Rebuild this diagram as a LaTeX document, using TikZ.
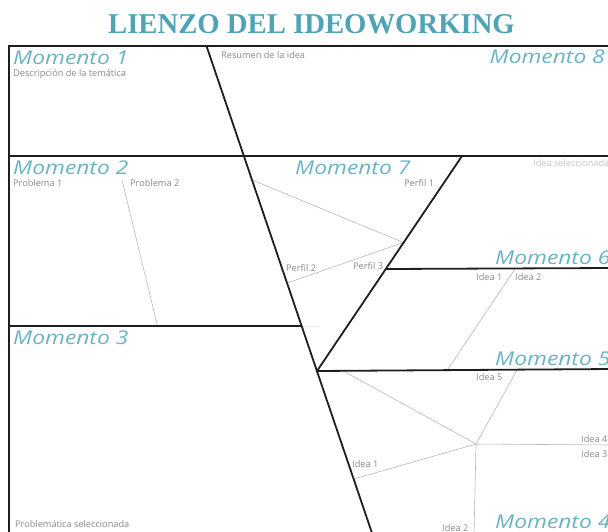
\documentclass[tikz,border=0pt]{standalone}
\usepackage{fontspec}
\setmainfont{Open Sans}
\newfontfamily\titlefont{Liberation Serif}
\newfontfamily\momfont{Open Sans}
\definecolor{titlec}{HTML}{4FA3B4}
\definecolor{momc}{HTML}{6BB3C4}
\definecolor{labc}{HTML}{8A8A8A}
\definecolor{lightlabc}{HTML}{C6C6C6}
\definecolor{thinc}{HTML}{B8B8B8}
\definecolor{framec}{HTML}{1E1E1E}
\begin{document}
\begin{tikzpicture}[x=1pt,y=-1pt,
  frame/.style={draw=framec,line width=1.8pt},
  thin/.style={draw=thinc,line width=0.6pt},
  mom/.style={font=\momfont\fontsize{19}{19}\selectfont\itshape,text=momc,inner sep=0pt},
  lab/.style={font=\fontsize{9.2}{9.5}\selectfont,text=labc,inner sep=0pt,anchor=base west},
  lightlab/.style={lab,text=lightlabc}]
\useasboundingbox (0,0) rectangle (608,531);
\clip (0,0) rectangle (608,531);
% title
\node[font=\titlefont\bfseries\fontsize{28.7}{29}\selectfont,text=titlec,inner sep=0pt,anchor=base] (title) at (311.5,33) {LIENZO DEL IDEOWORKING};
% coordinates
\coordinate (ftl) at (9,46);
\coordinate (ftr) at (612,46);
\coordinate (fbl) at (9,536);
\coordinate (d1a) at (206.5,46);
\coordinate (d1b) at (373,536);
\coordinate (h1l) at (9,156);
\coordinate (h1r) at (612,156);
\coordinate (h2l) at (9,326);
\coordinate (h2r) at (301.7,326);
\coordinate (h2f) at (320,326);
\coordinate (d2a) at (462,156);
\coordinate (d2b) at (317,371);
\coordinate (h6l) at (385.8,269);
\coordinate (h6r) at (612,268);
\coordinate (h5r) at (612,369);
% thin line ends
\coordinate (p2a) at (122,180);
\coordinate (p2b) at (157.5,326);
\coordinate (f1a) at (252.1,180);
\coordinate (fm) at (403.5,242.5);
\coordinate (f2a) at (287.2,283);
\coordinate (i6a) at (515,269);
\coordinate (i6b) at (447,370.5);
\coordinate (c) at (476,444);
\coordinate (c1) at (343,370.8);
\coordinate (c5) at (517,370);
\coordinate (c4) at (612,445);
\coordinate (cl) at (353.8,479);
\coordinate (c2) at (474,536);
% thin lines
\draw[thin] (p2a) -- (p2b);
\draw[thin] (f1a) -- (fm) -- (f2a);
\draw[thin] (i6a) -- (i6b);
\draw[thin] (c1) -- (c) -- (c5);
\draw[thin] (c4) -- (c) -- (cl);
\draw[thin] (c) -- (c2);
\draw[draw=black!8,line width=0.8pt] (h2r) -- (h2f);
% frame lines
\draw[frame] (ftr) -- (ftl) -- (fbl);
\draw[frame] (d1a) -- (d1b);
\draw[frame] (h1l) -- (h1r);
\draw[frame] (h2l) -- (h2r);
\draw[frame] (d2a) -- (d2b);
\draw[frame] (h6l) -- (h6r);
\draw[frame] (d2b) -- (h5r);
% Momento labels
\node[mom,anchor=base west] (m1) at (13,64) {\scalebox{1.2}[1]{Momento 1}};
\node[mom,anchor=base east] (m8) at (605,63) {\scalebox{1.2}[1]{Momento 8}};
\node[mom,anchor=base west] (m2) at (13,174) {\scalebox{1.2}[1]{Momento 2}};
\node[mom,anchor=base west] (m3) at (13,344) {\scalebox{1.2}[1]{Momento 3}};
\node[mom,anchor=base west] (m7) at (295,174) {\scalebox{1.2}[1]{Momento 7}};
\node[mom,anchor=base west] (m6) at (495,264) {\scalebox{1.2}[1]{Momento 6}};
\node[mom,anchor=base west] (m5) at (495,365) {\scalebox{1.2}[1]{Momento 5}};
\node[mom,anchor=base west] (m4) at (495,528) {\scalebox{1.2}[1]{Momento 4}};
% small labels
\node[lab] (desc) at (13,76) {Descripción de la temática};
\node[lab] (res) at (221,58) {Resumen de la idea};
\node[lab] (pb1) at (13,186) {Problema 1};
\node[lab] (pb2) at (130,186) {Problema 2};
\node[lab] (psel) at (15,527) {Problemática seleccionada};
\node[lab] (pf1) at (404,186) {Perfil 1};
\node[lab] (pf2) at (286,271) {Perfil 2};
\node[lab] (pf3) at (353,269) {Perfil 3};
\node[lightlab] (isel) at (533,166) {Idea seleccionada};
\node[lab] (i61) at (476,280) {Idea 1};
\node[lab] (i62) at (515,280) {Idea 2};
\node[lab] (i5) at (476,380) {Idea 5};
\node[lab] (i4) at (581,442) {Idea 4};
\node[lab] (i3) at (581,457) {Idea 3};
\node[lab] (i2) at (442,531) {Idea 2};
\node[lab] (i1) at (352,467) {Idea 1};
\end{tikzpicture}
\end{document}
